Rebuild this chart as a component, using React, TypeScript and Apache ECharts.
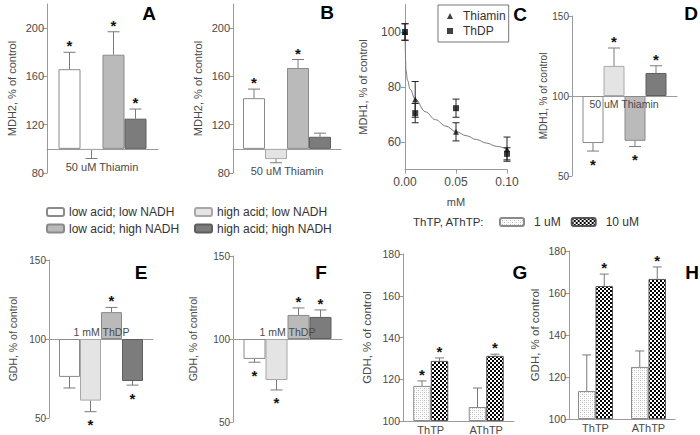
import React, { useEffect, useRef } from "react";
import * as echarts from "echarts";

const FONT = "'Liberation Sans', Arial, Helvetica, sans-serif";

// ---------- data ----------
const conditions = ["low acid; low NADH", "high acid; low NADH", "low acid; high NADH", "high acid; high NADH"];

const A_values = [166, 99, 178, 125];
const A_errors = [14, 7, 19, 8];
const A_stars = [true, false, true, true];

const B_values = [142, 91.5, 167, 110];
const B_errors = [7.5, 3, 7, 3];
const B_stars = [true, false, true, false];

const D_values = [70.6, 118.8, 72, 114.4];
const D_errors = [5, 11.2, 3.6, 4.5];
const D_stars = [true, true, true, true];

const E_values = [76, 61, 117, 73.4];
const E_errors = [7, 7, 3, 2.6];
const E_stars = [false, true, true, true];

const F_values = [88, 75.3, 114.5, 113.3];
const F_errors = [2, 6, 4.2, 4.2];
const F_stars = [true, true, true, true];

const C_doses = [0, 0.01, 0.05, 0.1];
const C_thiamin = [100, 75.5, 63.7, 57.4];
const C_thiaminErr = [3, 6.5, 3.3, 4.4];
const C_thdp = [100, 70.5, 72.3, 55.7];
const C_thdpErr = [3, 3.5, 3.3, 2.2];
const C_fitX = [0, 0.001, 0.0025, 0.005, 0.01, 0.02, 0.03, 0.04, 0.05, 0.06, 0.07, 0.08, 0.09, 0.1];
const C_fitY = [100, 86, 82.4, 79.2, 75.6, 71, 68.1, 65.8, 63.8, 62.3, 60.9, 59.6, 58.4, 57.4];

const ghCategories = ["ThTP", "AThTP"];
const doseNames = ["1 uM", "10 uM"];
const G_1uM = [116.8, 106.7];
const G_1uMErr = [2.4, 9.1];
const G_1uMStars = [true, false];
const G_10uM = [128.8, 131.2];
const G_10uMErr = [1.4, 0.8];
const G_10uMStars = [true, true];
const H_1uM = [113.3, 124.8];
const H_1uMErr = [17.2, 7.6];
const H_1uMStars = [false, false];
const H_10uM = [163.3, 166.7];
const H_10uMErr = [5.7, 5.7];
const H_10uMStars = [true, true];

const AX = "#9a9a9a";
const LABEL = "#4a4a4a";
const barColors = ["#ffffff", "#e4e4e4", "#bababa", "#7c7c7c"];
const barBorders = ["#8a8a8a", "#a8a8a8", "#8a8a8a", "#5e5e5e"];

function makePattern(kind: string) {
  const c = document.createElement("canvas");
  c.width = 4;
  c.height = 4;
  const ctx = c.getContext("2d")!;
  ctx.fillStyle = "#ffffff";
  ctx.fillRect(0, 0, 4, 4);
  if (kind === "checker") {
    ctx.fillStyle = "#000000";
    ctx.fillRect(0, 0, 2, 2);
    ctx.fillRect(2, 2, 2, 2);
  } else {
    ctx.fillStyle = "#bdbdbd";
    ctx.fillRect(0, 0, 1, 1);
    ctx.fillRect(2, 2, 1, 1);
    ctx.fillStyle = "#dedede";
    ctx.fillRect(2, 0, 1, 1);
    ctx.fillRect(0, 2, 1, 1);
  }
  return { image: c, repeat: "repeat", imageWidth: 4, imageHeight: 4 } as any;
}

function errRender(n: number, bw: number, cap: number) {
  return (params: any, api: any) => {
    const cat = api.value(0);
    const si = api.value(1);
    const v = api.value(2);
    const e = api.value(3);
    const st = api.value(4);
    const p0 = api.coord([cat, v]);
    const sign = v >= 0 ? 1 : -1;
    const p1 = api.coord([cat, v + sign * e]);
    const x = p0[0] + (si - (n - 1) / 2) * bw;
    const y1 = p1[1];
    const ls = { stroke: "#7a7a7a", lineWidth: 1 };
    const children: any[] = [
      { type: "line", shape: { x1: x, y1: p0[1], x2: x, y2: y1 }, style: ls },
      { type: "line", shape: { x1: x - cap, y1: y1, x2: x + cap, y2: y1 }, style: ls },
    ];
    if (st) {
      children.push({
        type: "text",
        x: x,
        y: sign > 0 ? y1 - 6.5 : y1 + 13,
        style: {
          text: "*",
          fill: "#111",
          fontSize: 15,
          fontWeight: "bold",
          fontFamily: FONT,
          align: "center",
          textAlign: "center",
          verticalAlign: "middle",
          textVerticalAlign: "middle",
        },
      });
    }
    return { type: "group", children };
  };
}

function textEl(text: string, x: number, y: number, size: number, opts: any = {}) {
  return {
    type: "text",
    x,
    y,
    z: 100,
    zlevel: 0,
    silent: true,
    style: {
      text,
      fill: opts.fill || "#333",
      fontSize: size,
      fontWeight: opts.bold ? "bold" : "normal",
      fontFamily: FONT,
      align: opts.align || "center",
      textAlign: opts.align || "center",
      verticalAlign: "middle",
      textVerticalAlign: "middle",
    },
  };
}

export default function App() {
  const ref = useRef<HTMLDivElement>(null);
  useEffect(() => {
    const chart = echarts.init(ref.current!, null, { renderer: "svg" });
    const stipple = makePattern("stipple");
    const checker = makePattern("checker");

    const grids: any[] = [];
    const xAxes: any[] = [];
    const yAxes: any[] = [];
    const series: any[] = [];

    const barPanels = [
      { idx: 0, g: { left: 47, top: 4, width: 111, height: 169 }, values: A_values, errors: A_errors, stars: A_stars, bw: 22, cap: 6, min: -20, max: 120, ticks: [-20, 20, 60, 100], fs: 11, name: "MDH2, % of control", nfs: 11, gap: 30 },
      { idx: 1, g: { left: 233, top: 4, width: 108, height: 169 }, values: B_values, errors: B_errors, stars: B_stars, bw: 22, cap: 6, min: -20, max: 120, ticks: [-20, 20, 60, 100], fs: 11, name: "MDH2, % of control", nfs: 11, gap: 30 },
      { idx: 3, g: { left: 572, top: 16, width: 105, height: 160 }, values: D_values, errors: D_errors, stars: D_stars, bw: 21, cap: 6, min: -50, max: 50, ticks: [-50, 0, 50], fs: 10, name: "MDH1, % of control", nfs: 10, gap: 24 },
      { idx: 4, g: { left: 49, top: 260, width: 104, height: 158 }, values: E_values, errors: E_errors, stars: E_stars, bw: 21, cap: 6, min: -50, max: 50, ticks: [-50, 0, 50], fs: 10, name: "GDH, % of control", nfs: 10.5, gap: 31 },
      { idx: 5, g: { left: 233, top: 256, width: 109, height: 166 }, values: F_values, errors: F_errors, stars: F_stars, bw: 22, cap: 6, min: -50, max: 50, ticks: [-50, 0, 50], fs: 10, name: "GDH, % of control", nfs: 10.5, gap: 35 },
    ];

    for (let i = 0; i < 8; i++) {
      grids.push(null);
      xAxes.push(null);
      yAxes.push(null);
    }

    const yAxisBase = (i: number, p: any) => ({
      gridIndex: i,
      type: "value",
      min: p.min,
      max: p.max,
      axisLine: { show: true, lineStyle: { color: AX } },
      axisTick: { show: true, length: 4, lineStyle: { color: AX }, customValues: p.ticks },
      axisLabel: { customValues: p.ticks, formatter: (v: number) => String(Math.round(v + 100)), fontSize: p.fs, color: LABEL, fontFamily: FONT, margin: 3 },
      splitLine: { show: false },
      name: p.name,
      nameLocation: "middle",
      nameRotate: 90,
      nameGap: p.gap,
      nameTextStyle: { fontSize: p.nfs, color: LABEL, fontFamily: FONT },
    });

    barPanels.forEach((p) => {
      const i = p.idx;
      grids[i] = { ...p.g };
      xAxes[i] = {
        gridIndex: i,
        type: "category",
        data: [""],
        axisLine: { show: true, onZero: true, lineStyle: { color: AX } },
        axisTick: { show: false },
        axisLabel: { show: false },
      };
      yAxes[i] = yAxisBase(i, p);
      p.values.forEach((v, j) => {
        series.push({
          type: "bar",
          name: conditions[j],
          xAxisIndex: i,
          yAxisIndex: i,
          data: [v - 100],
          barWidth: p.bw,
          barGap: "0%",
          silent: true,
          itemStyle: { color: barColors[j], borderColor: barBorders[j], borderWidth: 1 },
        });
      });
      series.push({
        type: "custom",
        xAxisIndex: i,
        yAxisIndex: i,
        silent: true,
        z: 5,
        encode: { x: 0, y: 2 },
        data: p.values.map((v, j) => [0, j, v - 100, p.errors[j], p.stars[j] ? 1 : 0]),
        renderItem: errRender(4, p.bw, p.cap),
      });
    });

    // Panel C
    grids[2] = { left: 405, top: 4.5, width: 102, height: 165 };
    xAxes[2] = {
      gridIndex: 2,
      type: "value",
      min: 0,
      max: 0.1,
      interval: 0.05,
      axisLine: { show: true, onZero: false, lineStyle: { color: AX } },
      axisTick: { show: true, length: 4, lineStyle: { color: AX } },
      axisLabel: { formatter: (v: number) => v.toFixed(2), fontSize: 12, color: LABEL, fontFamily: FONT, margin: 6 },
      splitLine: { show: false },
      name: "mM",
      nameLocation: "middle",
      nameGap: 27,
      nameTextStyle: { fontSize: 11, color: LABEL, fontFamily: FONT },
    };
    yAxes[2] = {
      gridIndex: 2,
      type: "value",
      min: 50,
      max: 110,
      axisLine: { show: true, lineStyle: { color: AX } },
      axisTick: { show: true, length: 4, lineStyle: { color: AX }, customValues: [60, 80, 100] },
      axisLabel: { customValues: [60, 80, 100], fontSize: 12, color: LABEL, fontFamily: FONT, margin: 4 },
      splitLine: { show: false },
      name: "MDH1, % of control",
      nameLocation: "middle",
      nameRotate: 90,
      nameGap: 37,
      nameTextStyle: { fontSize: 11, color: LABEL, fontFamily: FONT },
    };
    series.push({
      type: "line",
      name: "fit",
      xAxisIndex: 2,
      yAxisIndex: 2,
      data: C_fitX.map((x, k) => [x, C_fitY[k]]),
      smooth: 0.4,
      smoothMonotone: "x",
      showSymbol: false,
      silent: true,
      lineStyle: { color: "#7a7a7a", width: 1 },
    });
    const cErr = (name: string, ys: number[], es: number[]) => ({
      type: "custom",
      name: name + " err",
      xAxisIndex: 2,
      yAxisIndex: 2,
      silent: true,
      z: 4,
      encode: { x: 0, y: 1 },
      data: C_doses.map((x, k) => [x, ys[k], es[k]]),
      renderItem: (params: any, api: any) => {
        const x = api.value(0);
        const y = api.value(1);
        const e = api.value(2);
        const pt = api.coord([x, y + e]);
        const pb = api.coord([x, y - e]);
        const cx = pt[0];
        const ls = { stroke: "#222", lineWidth: 1 };
        return {
          type: "group",
          children: [
            { type: "line", shape: { x1: cx, y1: pt[1], x2: cx, y2: pb[1] }, style: ls },
            { type: "line", shape: { x1: cx - 3.5, y1: pt[1], x2: cx + 3.5, y2: pt[1] }, style: ls },
            { type: "line", shape: { x1: cx - 3.5, y1: pb[1], x2: cx + 3.5, y2: pb[1] }, style: ls },
          ],
        };
      },
    });
    series.push(cErr("Thiamin", C_thiamin, C_thiaminErr));
    series.push(cErr("ThDP", C_thdp, C_thdpErr));
    series.push({
      type: "scatter",
      name: "Thiamin",
      xAxisIndex: 2,
      yAxisIndex: 2,
      symbol: "triangle",
      symbolSize: 6,
      silent: true,
      z: 6,
      itemStyle: { color: "#111" },
      data: C_doses.map((x, k) => [x, C_thiamin[k]]),
    });
    series.push({
      type: "scatter",
      name: "ThDP",
      xAxisIndex: 2,
      yAxisIndex: 2,
      symbol: "rect",
      symbolSize: 6,
      silent: true,
      z: 6,
      itemStyle: { color: "#111" },
      data: C_doses.map((x, k) => [x, C_thdp[k]]),
    });

    // Panels G and H
    const ghPanels = [
      { idx: 6, g: { left: 403, top: 254, width: 111, height: 167 }, v1: G_1uM, e1: G_1uMErr, s1: G_1uMStars, v2: G_10uM, e2: G_10uMErr, s2: G_10uMStars, gap: 30 },
      { idx: 7, g: { left: 569, top: 251, width: 106, height: 168 }, v1: H_1uM, e1: H_1uMErr, s1: H_1uMStars, v2: H_10uM, e2: H_10uMErr, s2: H_10uMStars, gap: 28 },
    ];
    ghPanels.forEach((p) => {
      const i = p.idx;
      grids[i] = { ...p.g };
      xAxes[i] = {
        gridIndex: i,
        type: "category",
        data: ghCategories,
        axisLine: { show: true, lineStyle: { color: AX } },
        axisTick: { show: false },
        axisLabel: { fontSize: 11, color: LABEL, fontFamily: FONT, margin: 3 },
      };
      yAxes[i] = yAxisBase(i, {
        min: 0,
        max: 80,
        ticks: [0, 20, 40, 60, 80],
        fs: 10.5,
        name: "GDH, % of control",
        nfs: 11.5,
        gap: p.gap,
      });
      const bw = 17.5;
      series.push({
        type: "bar",
        name: doseNames[0],
        xAxisIndex: i,
        yAxisIndex: i,
        data: p.v1.map((v) => v - 100),
        barWidth: bw,
        barGap: "0%",
        silent: true,
        itemStyle: { color: stipple, borderColor: "#8a8a8a", borderWidth: 1 },
      });
      series.push({
        type: "bar",
        name: doseNames[1],
        xAxisIndex: i,
        yAxisIndex: i,
        data: p.v2.map((v) => v - 100),
        barWidth: bw,
        barGap: "0%",
        silent: true,
        itemStyle: { color: checker, borderColor: "#555", borderWidth: 1 },
      });
      const errData: number[][] = [];
      ghCategories.forEach((_, c) => {
        errData.push([c, 0, p.v1[c] - 100, p.e1[c], p.s1[c] ? 1 : 0]);
        errData.push([c, 1, p.v2[c] - 100, p.e2[c], p.s2[c] ? 1 : 0]);
      });
      series.push({
        type: "custom",
        xAxisIndex: i,
        yAxisIndex: i,
        silent: true,
        z: 5,
        encode: { x: 0, y: 2 },
        data: errData,
        renderItem: errRender(2, bw, 4.5),
      });
    });

    const legCommon = {
      itemWidth: 17,
      itemHeight: 8,
      padding: 0,
      selectedMode: false,
      textStyle: { fontSize: 12, color: "#333", fontFamily: FONT },
    };

    const option: any = {
      animation: false,
      backgroundColor: "#ffffff",
      textStyle: { fontFamily: FONT },
      grid: grids,
      xAxis: xAxes,
      yAxis: yAxes,
      series,
      legend: [
        { ...legCommon, data: [conditions[0]], left: 46, top: 206 },
        { ...legCommon, data: [conditions[1]], left: 194, top: 206 },
        { ...legCommon, data: [conditions[2]], left: 46, top: 222.5 },
        { ...legCommon, data: [conditions[3]], left: 194, top: 222.5 },
        {
          ...legCommon,
          data: doseNames,
          left: 499,
          top: 216,
          itemWidth: 24,
          itemHeight: 8,
          itemGap: 10,
          textStyle: { fontSize: 12, color: "#333", fontFamily: FONT, padding: [0, 0, 0, 5] },
        },
        {
          data: ["Thiamin", "ThDP"],
          orient: "vertical",
          left: 438,
          top: 5,
          selectedMode: false,
          borderColor: "#777",
          borderWidth: 1,
          padding: [5, 3, 5, 9],
          itemWidth: 6,
          itemHeight: 6,
          itemGap: 3,
          textStyle: { fontSize: 12, color: "#333", fontFamily: FONT, padding: [0, 0, 0, 5] },
        },
      ],
      graphic: {
        elements: [
          textEl("A", 149, 13, 19, { bold: true, fill: "#000" }),
          textEl("B", 327, 12, 19, { bold: true, fill: "#000" }),
          textEl("C", 520, 14, 19, { bold: true, fill: "#000" }),
          textEl("D", 691, 13, 19, { bold: true, fill: "#000" }),
          textEl("E", 141, 272, 19, { bold: true, fill: "#000" }),
          textEl("F", 321, 272, 19, { bold: true, fill: "#000" }),
          textEl("G", 520, 272, 19, { bold: true, fill: "#000" }),
          textEl("H", 692, 272, 19, { bold: true, fill: "#000" }),
          textEl("50 uM Thiamin", 102, 167, 11, { fill: LABEL }),
          textEl("50 uM Thiamin", 287, 171, 11, { fill: LABEL }),
          textEl("50 uM Thiamin", 624, 104, 10.5, { fill: LABEL }),
          textEl("1 mM ThDP", 101.5, 332, 10.5, { fill: LABEL }),
          textEl("1 mM ThDP", 287.5, 332, 10.5, { fill: LABEL }),
          textEl("ThTP, AThTP:", 413, 222, 11.5, { fill: "#333", align: "left" }),
        ],
      },
    };
    chart.setOption(option);
    return () => chart.dispose();
  }, []);
  return (
    <div
      ref={ref}
      style={{ position: "fixed", left: 0, top: 0, width: 700, height: 435, background: "#fff" }}
    />
  );
}
